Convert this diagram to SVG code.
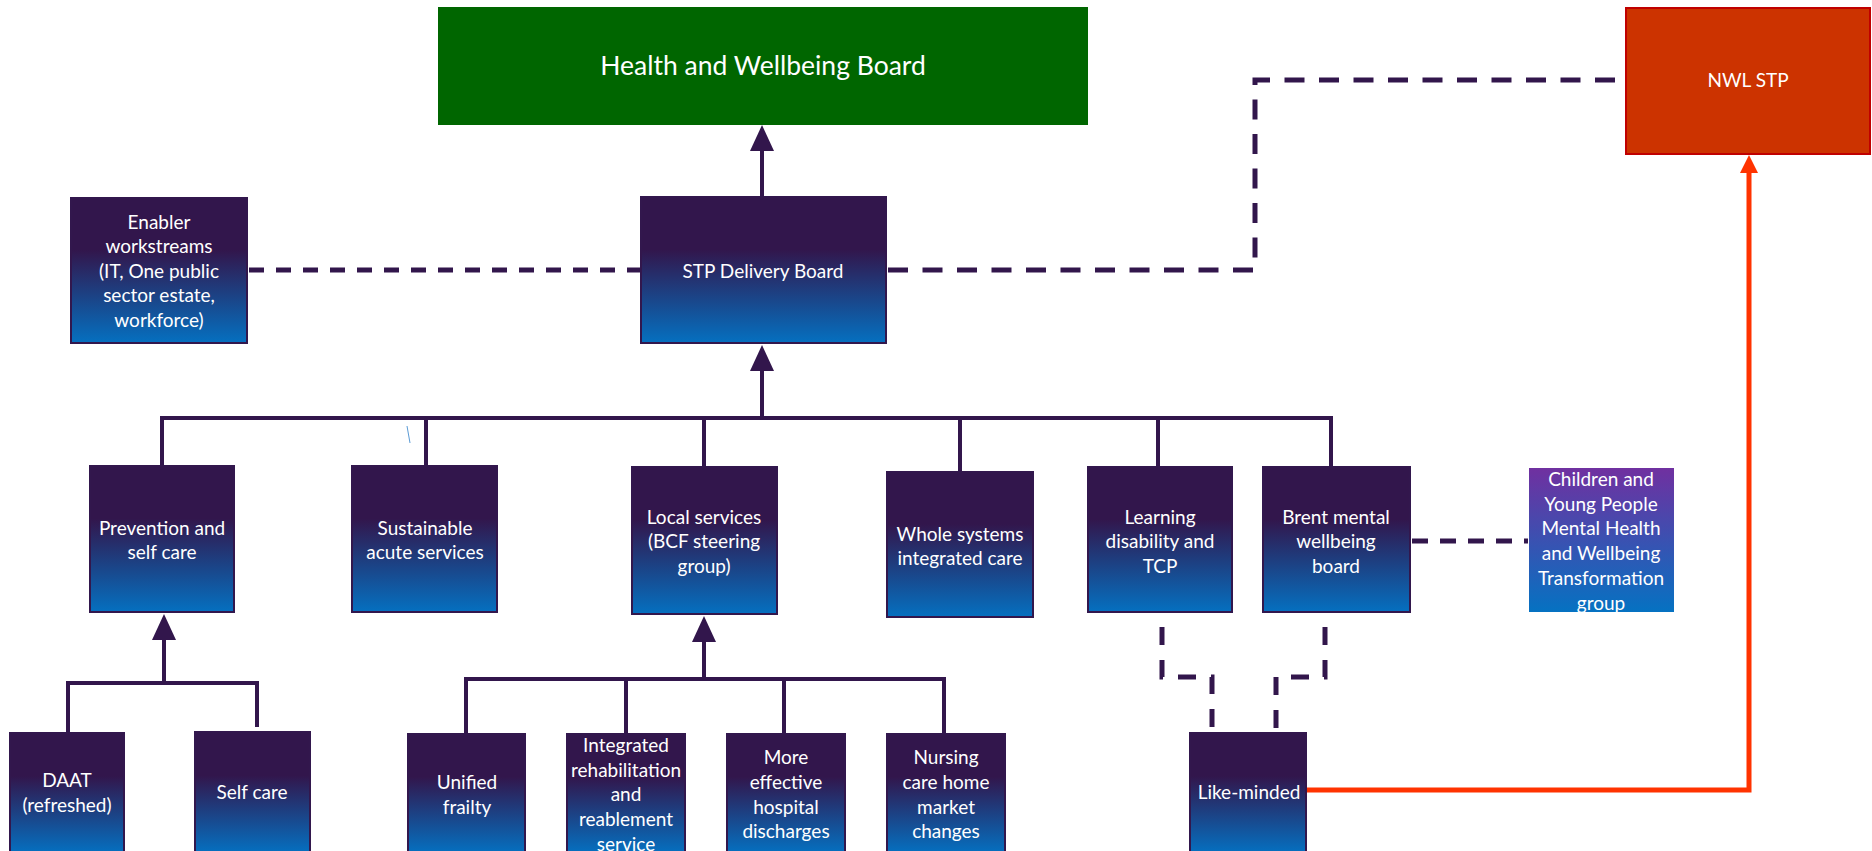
<svg xmlns="http://www.w3.org/2000/svg" width="1872" height="851" viewBox="0 0 1872 851">
<defs>
<linearGradient id="gBox" x1="0" y1="0" x2="0" y2="1">
<stop offset="0" stop-color="#32164C"/>
<stop offset="0.36" stop-color="#32164C"/>
<stop offset="1" stop-color="#0570C0"/>
</linearGradient>
<linearGradient id="gKids" x1="0" y1="0" x2="0" y2="1">
<stop offset="0" stop-color="#7030A0"/>
<stop offset="1" stop-color="#0572C2"/>
</linearGradient>
<style>
.box{fill:url(#gBox);stroke:#32174D;stroke-width:2}
.t{font-family:Lato,"Liberation Sans",sans-serif;font-size:19px;fill:#FFFFFF;text-anchor:middle}
.solid{fill:none;stroke:#32164C;stroke-width:4}
.dash{fill:none;stroke:#32164C;stroke-width:5}
.head{fill:#32164C}
</style>
</defs>
<rect width="1872" height="851" fill="#FFFFFF"/>

<g id="connectors">
  <!-- STP Delivery Board to HWB -->
  <line class="solid" x1="762" y1="197" x2="762" y2="148"/>
  <polygon class="head" points="762,125 750,151 774,151"/>
  <!-- bus to STP Delivery Board -->
  <line class="solid" x1="762" y1="418" x2="762" y2="368"/>
  <polygon class="head" points="762,345 750,371 774,371"/>
  <path class="solid" d="M162,466 V418 H1331 V467"/>
  <line class="solid" x1="426" y1="418" x2="426" y2="466"/>
  <line class="solid" x1="960" y1="418" x2="960" y2="472"/>
  <line class="solid" x1="1158" y1="418" x2="1158" y2="467"/>
  <line class="solid" x1="704" y1="418" x2="704" y2="467"/>
  <!-- Prevention sub-tree -->
  <line class="solid" x1="164" y1="683" x2="164" y2="636"/>
  <polygon class="head" points="164,614 152,640 176,640"/>
  <path class="solid" d="M68,733 V683 H257 V727"/>
  <!-- Local services sub-tree -->
  <line class="solid" x1="704" y1="679" x2="704" y2="638"/>
  <polygon class="head" points="704,616 692,642 716,642"/>
  <path class="solid" d="M466,734 V679 H944 V734"/>
  <line class="solid" x1="626" y1="679" x2="626" y2="734"/>
  <line class="solid" x1="784" y1="679" x2="784" y2="734"/>
  <!-- dashed links -->
  <line class="dash" x1="249" y1="270" x2="640" y2="270" stroke-dasharray="15 12"/>
  <path class="dash" d="M888,270 H1255 V80 H1624" stroke-dasharray="20 14.5"/>
  <line class="dash" x1="1412" y1="541" x2="1528" y2="541" stroke-dasharray="16 12"/>
  <path class="dash" d="M1162,627 V677 H1212 V733" stroke-dasharray="18 15"/>
  <path class="dash" d="M1325,627 V677 H1276 V733" stroke-dasharray="18 15"/>
  <!-- red link Like-minded to NWL STP -->
  <path d="M1306,790 H1749 V170" fill="none" stroke="#FF3300" stroke-width="5"/>
  <polygon points="1749,155 1740,173 1758,173" fill="#FF3300"/>
  <!-- stray mark -->
  <line x1="407" y1="426" x2="410" y2="443" stroke="#5B9BD5" stroke-width="1"/>
</g>

<g id="hwb">
  <rect x="438" y="7" width="650" height="118" fill="#006600"/>
  <text x="763" y="75" font-family="Lato,'Liberation Sans',sans-serif" font-size="26.5" fill="#FFFFFF" text-anchor="middle">Health and Wellbeing Board</text>
</g>
<g id="nwl">
  <rect x="1626" y="8" width="244" height="146" fill="#CC3300" stroke="#C00000" stroke-width="2"/>
  <text class="t" x="1748" y="87">NWL STP</text>
</g>
<g id="enabler">
  <rect class="box" x="71" y="198" width="176" height="145" stroke="none"/>
  <text class="t" x="159"><tspan x="159" y="229">Enabler</tspan><tspan x="159" y="253">workstreams</tspan><tspan x="159" y="278">(IT, One public</tspan><tspan x="159" y="302">sector estate,</tspan><tspan x="159" y="327">workforce)</tspan></text>
</g>
<g id="stp">
  <rect class="box" x="641" y="197" width="245" height="146"/>
  <text class="t" x="763" y="278">STP Delivery Board</text>
</g>
<g id="prevention">
  <rect class="box" x="90" y="466" width="144" height="146"/>
  <text class="t"><tspan x="162" y="535">Prevention and</tspan><tspan x="162" y="559">self care</tspan></text>
</g>
<g id="sustainable">
  <rect class="box" x="352" y="466" width="145" height="146"/>
  <text class="t"><tspan x="425" y="535">Sustainable</tspan><tspan x="425" y="559">acute services</tspan></text>
</g>
<g id="local">
  <rect class="box" x="632" y="467" width="145" height="147"/>
  <text class="t"><tspan x="704" y="524">Local services</tspan><tspan x="704" y="548">(BCF steering</tspan><tspan x="704" y="573">group)</tspan></text>
</g>
<g id="whole">
  <rect class="box" x="887" y="472" width="146" height="145"/>
  <text class="t"><tspan x="960" y="541">Whole systems</tspan><tspan x="960" y="565">integrated care</tspan></text>
</g>
<g id="learning">
  <rect class="box" x="1088" y="467" width="144" height="145"/>
  <text class="t"><tspan x="1160" y="524">Learning</tspan><tspan x="1160" y="548">disability and</tspan><tspan x="1160" y="573">TCP</tspan></text>
</g>
<g id="brent">
  <rect class="box" x="1263" y="467" width="147" height="145"/>
  <text class="t"><tspan x="1336" y="524">Brent  mental</tspan><tspan x="1336" y="548">wellbeing</tspan><tspan x="1336" y="573">board</tspan></text>
</g>
<g id="children">
  <rect x="1529" y="468" width="145" height="144" fill="url(#gKids)"/>
  <text class="t"><tspan x="1601" y="486">Children and</tspan><tspan x="1601" y="511">Young People</tspan><tspan x="1601" y="535">Mental Health</tspan><tspan x="1601" y="560">and Wellbeing</tspan><tspan x="1601" y="585">Transformation</tspan><tspan x="1601" y="610">group</tspan></text>
</g>
<g id="daat">
  <rect class="box" x="10" y="733" width="114" height="120" stroke="none"/>
  <text class="t"><tspan x="67" y="787">DAAT</tspan><tspan x="67" y="812">(refreshed)</tspan></text>
</g>
<g id="selfcare">
  <rect class="box" x="195" y="732" width="115" height="121"/>
  <text class="t" x="252" y="799">Self care</text>
</g>
<g id="unified">
  <rect class="box" x="408" y="734" width="117" height="119"/>
  <text class="t"><tspan x="467" y="789">Unified</tspan><tspan x="467" y="814">frailty</tspan></text>
</g>
<g id="integrated">
  <rect class="box" x="567" y="734" width="118" height="119"/>
  <text class="t"><tspan x="626" y="752">Integrated</tspan><tspan x="626" y="777">rehabilitation</tspan><tspan x="626" y="801">and</tspan><tspan x="626" y="826">reablement</tspan><tspan x="626" y="851">service</tspan></text>
</g>
<g id="discharges">
  <rect class="box" x="727" y="734" width="118" height="119"/>
  <text class="t"><tspan x="786" y="764">More</tspan><tspan x="786" y="789">effective</tspan><tspan x="786" y="814">hospital</tspan><tspan x="786" y="838">discharges</tspan></text>
</g>
<g id="nursing">
  <rect class="box" x="887" y="734" width="118" height="119"/>
  <text class="t"><tspan x="946" y="764">Nursing</tspan><tspan x="946" y="789">care home</tspan><tspan x="946" y="814">market</tspan><tspan x="946" y="838">changes</tspan></text>
</g>
<g id="likeminded">
  <rect class="box" x="1190" y="733" width="116" height="120" stroke="none"/>
  <text class="t" x="1249" y="799">Like-minded</text>
</g>
</svg>
